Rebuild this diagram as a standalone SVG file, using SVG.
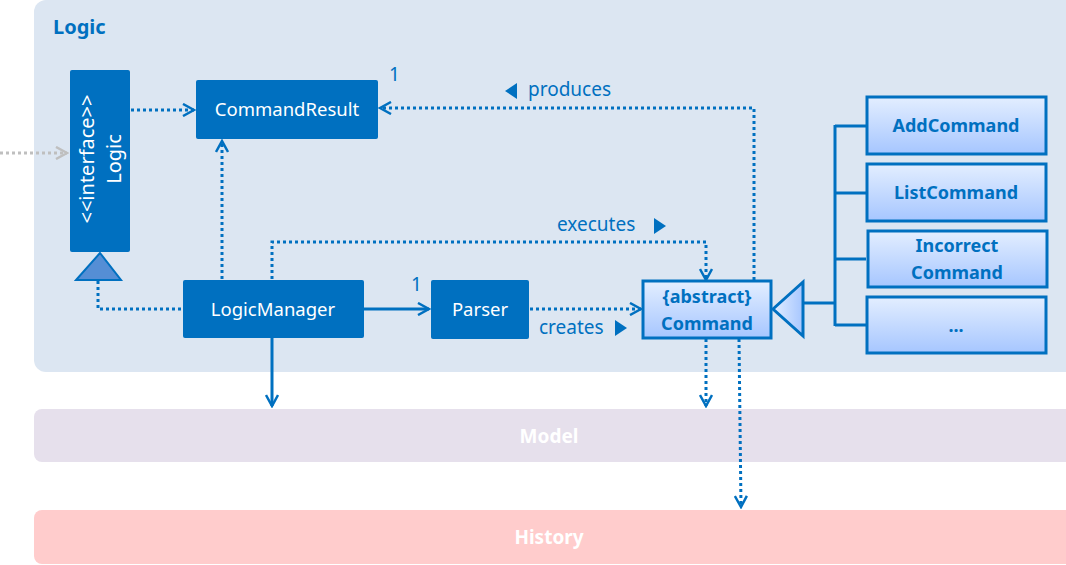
<svg xmlns="http://www.w3.org/2000/svg" width="1066" height="565" viewBox="0 0 1066 565">
<defs>
<linearGradient id="g" x1="0" y1="0" x2="0" y2="1">
<stop offset="0" stop-color="#E3EEFF"/>
<stop offset="1" stop-color="#A6C6FF"/>
</linearGradient>
<linearGradient id="gt" x1="0" y1="0" x2="1" y2="0">
<stop offset="0" stop-color="#E3EEFF"/>
<stop offset="1" stop-color="#A6C6FF"/>
</linearGradient>
<marker id="open" viewBox="0 0 14 14" refX="12" refY="7" markerWidth="14" markerHeight="14" markerUnits="userSpaceOnUse" orient="auto">
<path d="M1,1 L12,7 L1,13" fill="none" stroke="#0070C0" stroke-width="2.5"/>
</marker>
<marker id="openg" viewBox="0 0 14 14" refX="12" refY="7" markerWidth="14" markerHeight="14" markerUnits="userSpaceOnUse" orient="auto">
<path d="M1,1 L12,7 L1,13" fill="none" stroke="#BFBFBF" stroke-width="2.5"/>
</marker>
</defs>
<style>
.t{font-family:"Noto Sans","Open Sans",sans-serif;}
.w{fill:#FFFFFF;font-size:18.5px;}
.b{fill:#0070C0;font-size:18px;font-weight:bold;}
.lbl{fill:#0070C0;font-size:19px;}
.box{fill:#0070C0;}
.gbox{fill:url(#g);stroke:#0070C0;stroke-width:3;}
.dot{fill:none;stroke:#0070C0;stroke-width:3;stroke-dasharray:3 3;}
.sol{fill:none;stroke:#0070C0;stroke-width:3;}
.bar{font-family:"Noto Sans","Open Sans",sans-serif;font-size:19px;font-weight:bold;fill:#FFFFFF;}
</style>
<g id="logic-pkg">
<rect x="34" y="0" width="1044" height="372" rx="12" fill="#DCE6F2"/>
<text class="t" x="53" y="34" font-size="20" font-weight="bold" fill="#0070C0">Logic</text>
</g>
<g id="model">
<rect x="34" y="409" width="1044" height="53" rx="8" fill="#E6E0EC"/>
<text class="bar" x="549" y="443" text-anchor="middle">Model</text>
</g>
<g id="history">
<rect x="34" y="510" width="1044" height="54" rx="8" fill="#FFCCCC"/>
<text class="bar" x="549" y="544" text-anchor="middle">History</text>
</g>
<g id="connectors">
<line x1="0" y1="153" x2="67" y2="153" stroke="#BFBFBF" stroke-width="3" stroke-dasharray="3 3" marker-end="url(#openg)"/>
<line class="dot" x1="131" y1="110" x2="194" y2="110" marker-end="url(#open)"/>
<polyline class="dot" points="222,279 222,210 222,141" marker-end="url(#open)"/>
<polyline class="dot" points="272,279 272,242 706,242 706,280" marker-end="url(#open)"/>
<line class="sol" x1="364" y1="309" x2="429" y2="309" marker-end="url(#open)"/>
<text class="t lbl" x="411" y="291">1</text>
<line class="dot" x1="530" y1="309" x2="641" y2="309" marker-end="url(#open)"/>
<text class="t lbl" x="539" y="334">creates</text>
<polygon points="615,320 627,328 615,336" fill="#0070C0"/>
<polyline class="dot" points="754,280 754,108 380,108" marker-end="url(#open)"/>
<text class="t lbl" x="528" y="96">produces</text>
<polygon points="517,83 505,91 517,99" fill="#0070C0"/>
<text class="t lbl" x="557" y="231">executes</text>
<polygon points="654,218 666,226 654,234" fill="#0070C0"/>
<text class="t lbl" x="389" y="81">1</text>
<polygon points="100,253 76,280 121,280" fill="#558ED5" stroke="#0070C0" stroke-width="2"/>
<polyline class="dot" points="98,281 98,309 182,309"/>
<line class="sol" x1="272" y1="338" x2="272" y2="406" marker-end="url(#open)"/>
<line class="dot" x1="706" y1="339" x2="706" y2="406" marker-end="url(#open)"/>
<line class="dot" x1="739" y1="339" x2="741" y2="507" marker-end="url(#open)"/>
<polygon points="773,309 803,282 803,336" fill="url(#gt)" stroke="#0070C0" stroke-width="3"/>
<polyline class="sol" points="803,303 835,303"/>
<line class="sol" x1="835" y1="125" x2="835" y2="326"/>
<line class="sol" x1="835" y1="126" x2="866" y2="126"/>
<line class="sol" x1="835" y1="193" x2="866" y2="193"/>
<line class="sol" x1="835" y1="259" x2="866" y2="259"/>
<line class="sol" x1="835" y1="325" x2="866" y2="325"/>
</g>
<g id="ilogic">
<rect class="box" x="70" y="70" width="60" height="182" rx="2"/>
<text class="t" fill="#FFFFFF" font-size="20" transform="translate(94,159) rotate(-90)" text-anchor="middle">&lt;&lt;interface&gt;&gt;</text>
<text class="t" fill="#FFFFFF" font-size="20" transform="translate(121,159) rotate(-90)" text-anchor="middle">Logic</text>
</g>
<g id="commandresult">
<rect class="box" x="196" y="80" width="182" height="59" rx="2"/>
<text class="t w" x="287" y="116" text-anchor="middle">CommandResult</text>
</g>
<g id="logicmanager">
<rect class="box" x="183" y="280" width="181" height="58" rx="2"/>
<text class="t w" x="273" y="316" text-anchor="middle">LogicManager</text>
</g>
<g id="parser">
<rect class="box" x="431" y="280" width="98" height="59" rx="2"/>
<text class="t w" x="480" y="316" text-anchor="middle">Parser</text>
</g>
<g id="command">
<rect class="gbox" x="643" y="281" width="128" height="57"/>
<text class="t b" x="707" y="303" text-anchor="middle">{abstract}</text>
<text class="t b" x="707" y="330" text-anchor="middle">Command</text>
</g>
<g id="addcommand">
<rect class="gbox" x="867" y="97" width="179" height="57"/>
<text class="t b" x="956" y="132" text-anchor="middle">AddCommand</text>
</g>
<g id="listcommand">
<rect class="gbox" x="867" y="164" width="179" height="57"/>
<text class="t b" x="956" y="199" text-anchor="middle">ListCommand</text>
</g>
<g id="incorrectcommand">
<rect class="gbox" x="868" y="231" width="179" height="56"/>
<text class="t b" x="957" y="252" text-anchor="middle">Incorrect</text>
<text class="t b" x="957" y="279" text-anchor="middle">Command</text>
</g>
<g id="more">
<rect class="gbox" x="867" y="297" width="179" height="56"/>
<text class="t b" x="956" y="332" text-anchor="middle">...</text>
</g>
</svg>
